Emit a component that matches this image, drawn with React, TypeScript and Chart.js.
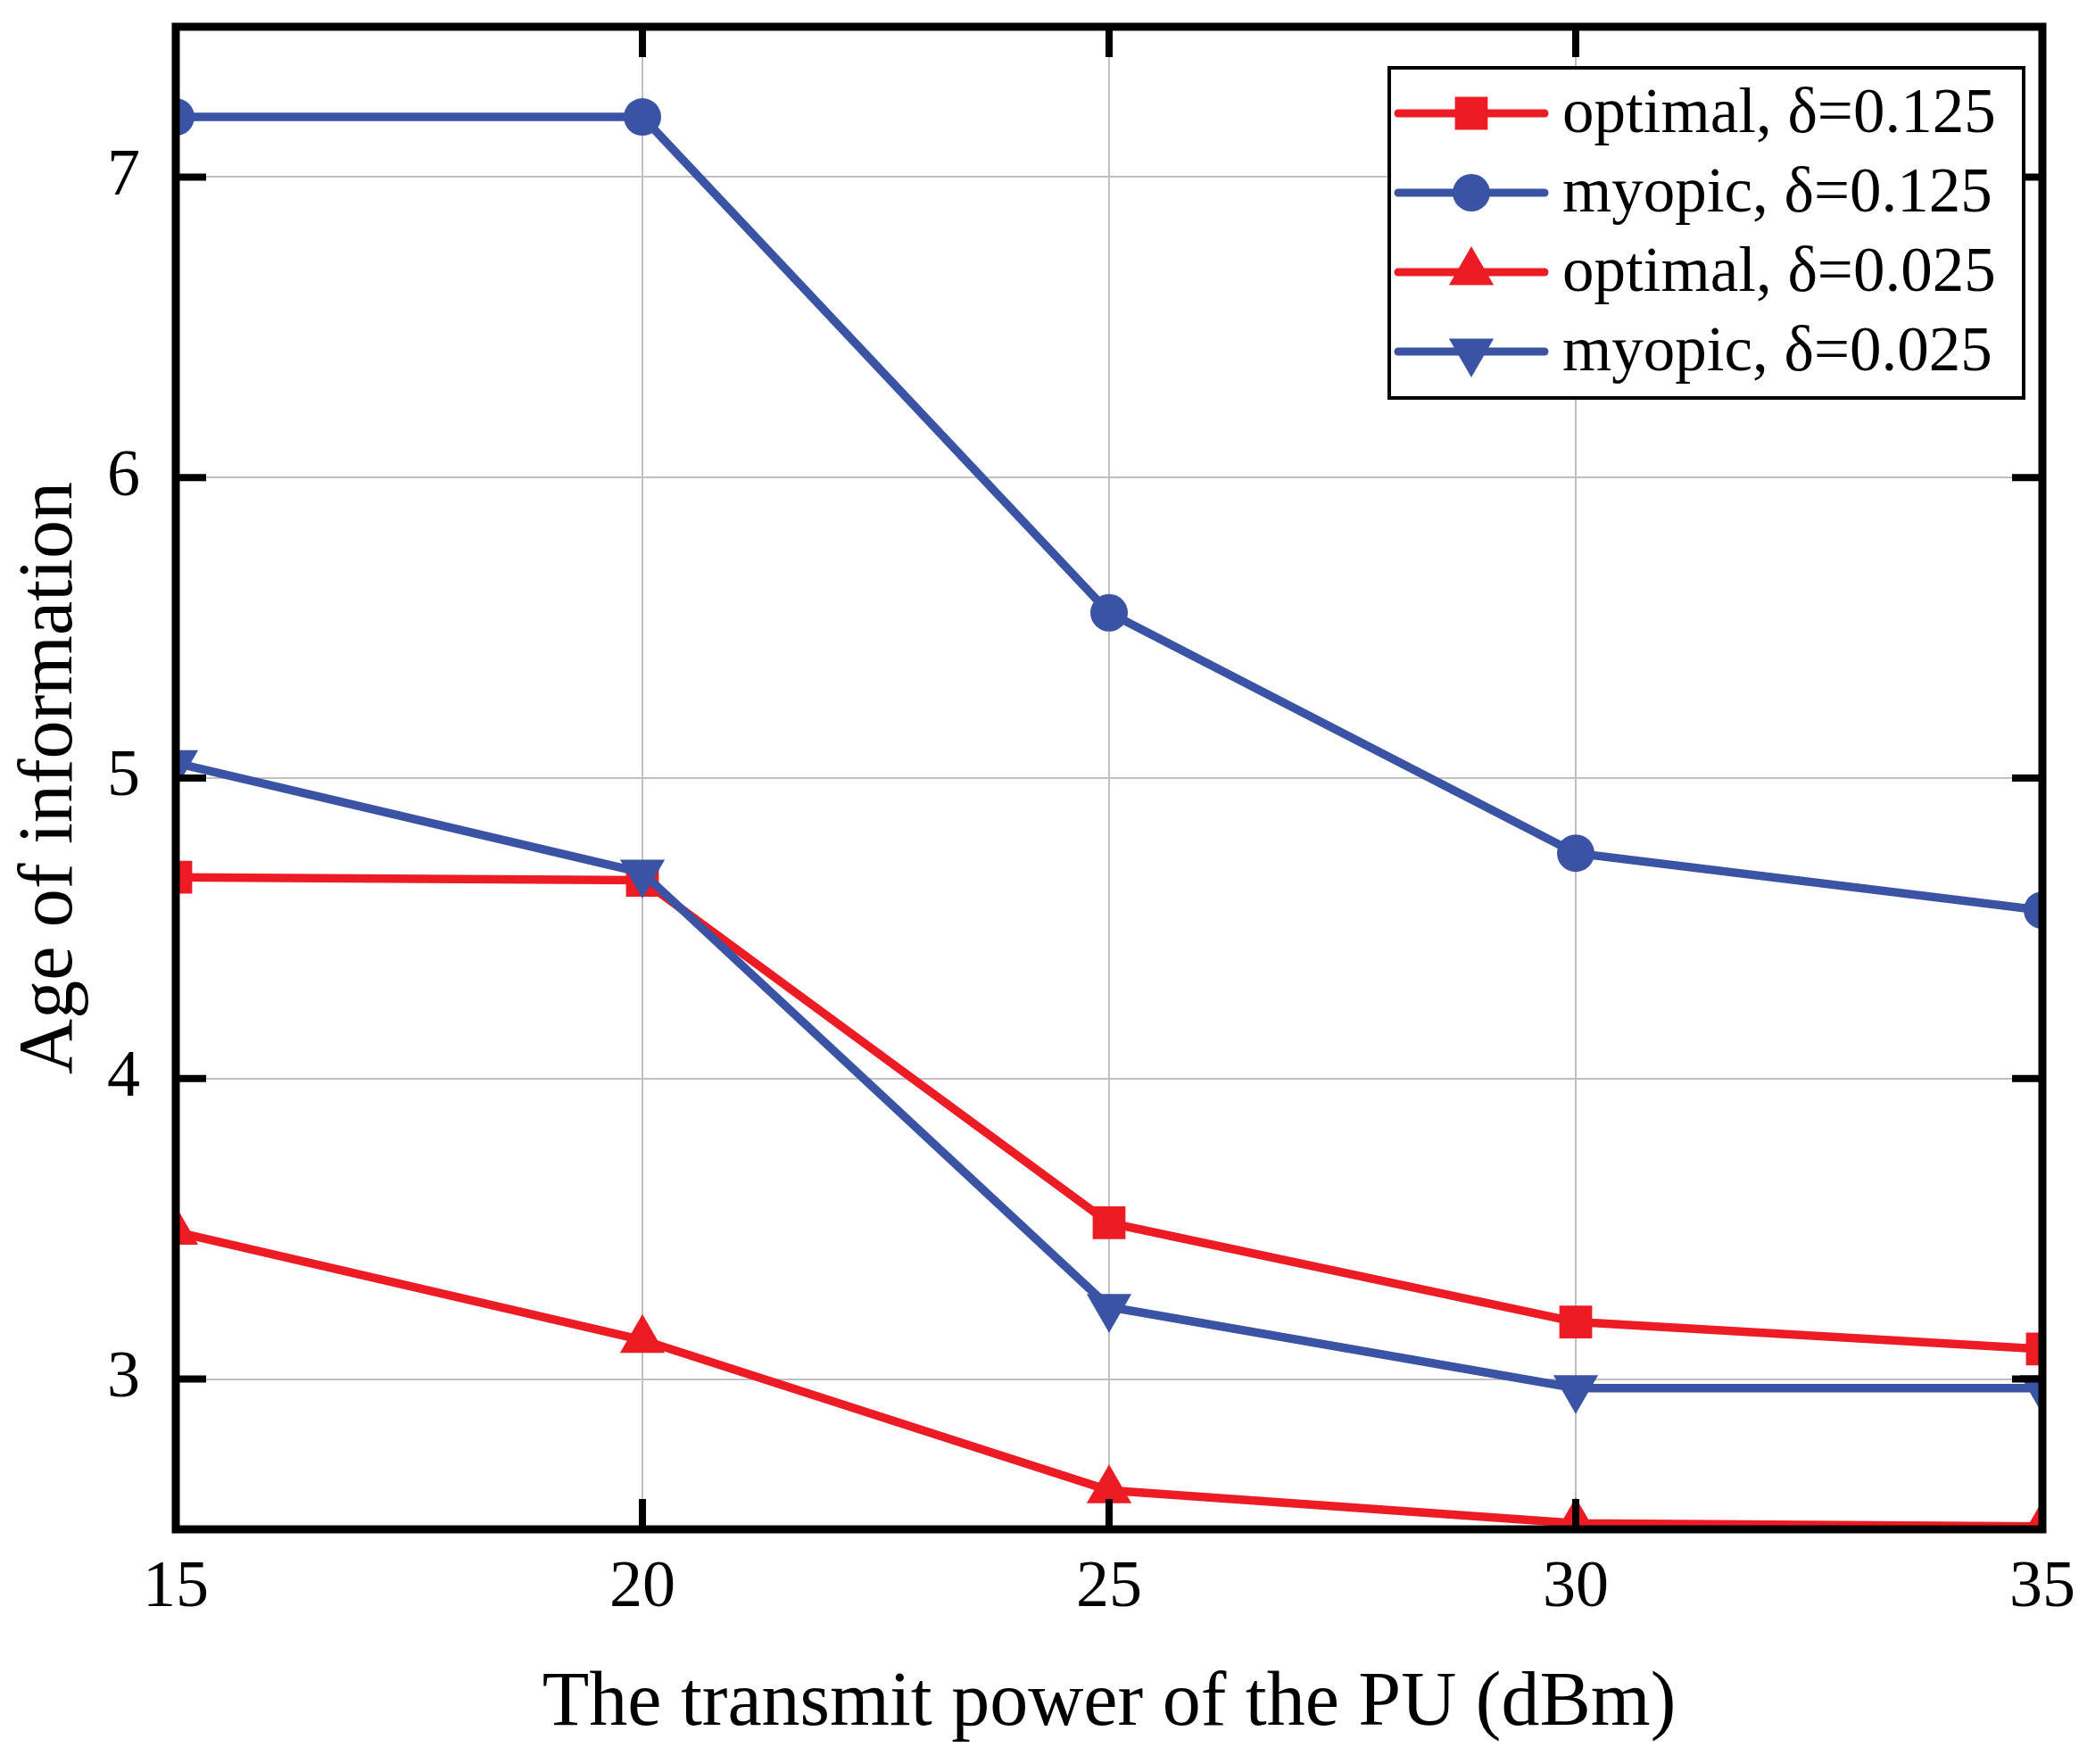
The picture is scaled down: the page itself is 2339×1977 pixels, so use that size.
import React, { useEffect, useRef } from "react";
import { Chart, registerables } from "chart.js";

Chart.register(...registerables);

const X_VALUES = [15, 20, 25, 30, 35];
const X_TICKS = [15, 20, 25, 30, 35];
const Y_TICKS = [3, 4, 5, 6, 7];

const OPTIMAL_0125 = [4.67, 4.66, 3.52, 3.19, 3.1];
const MYOPIC_0125 = [7.2, 7.2, 5.55, 4.75, 4.56];
const OPTIMAL_0025 = [3.49, 3.13, 2.63, 2.52, 2.51];
const MYOPIC_0025 = [5.05, 4.685, 3.24, 2.97, 2.97];

const SERIES_LABELS = [
  "optimal, δ=0.125",
  "myopic, δ=0.125",
  "optimal, δ=0.025",
  "myopic, δ=0.025",
];

const X_TITLE = "The transmit power of the PU (dBm)";
const Y_TITLE = "Age of information";

const RED = "#ED1C24";
const BLUE = "#3A53A4";
const FONT = '"Liberation Serif", "Times New Roman", serif';

type Marker = { style: string; radius: number; rotation: number; color: string };

const MARKERS: Marker[] = [
  { style: "rect", radius: 26, rotation: 0, color: RED },
  { style: "circle", radius: 21, rotation: 0, color: BLUE },
  { style: "triangle", radius: 29, rotation: 0, color: RED },
  { style: "triangle", radius: 29, rotation: 180, color: BLUE },
];

function drawMarker(ctx: CanvasRenderingContext2D, m: Marker, x: number, y: number) {
  ctx.save();
  ctx.fillStyle = m.color;
  ctx.beginPath();
  if (m.style === "rect") {
    const s = Math.SQRT1_2 * m.radius;
    ctx.rect(x - s, y - s, 2 * s, 2 * s);
  } else if (m.style === "circle") {
    ctx.arc(x, y, m.radius, 0, Math.PI * 2);
  } else {
    let rad = (m.rotation * Math.PI) / 180;
    ctx.moveTo(x + Math.sin(rad) * m.radius, y - Math.cos(rad) * m.radius);
    rad += (2 * Math.PI) / 3;
    ctx.lineTo(x + Math.sin(rad) * m.radius, y - Math.cos(rad) * m.radius);
    rad += (2 * Math.PI) / 3;
    ctx.lineTo(x + Math.sin(rad) * m.radius, y - Math.cos(rad) * m.radius);
    ctx.closePath();
  }
  ctx.fill();
  ctx.restore();
}

const TICK_LEN = 34;

const framePlugin = {
  id: "frame",
  afterDatasetsDraw(chart: any) {
    const { ctx, chartArea } = chart;
    const { left, right, top, bottom } = chartArea;
    const xs = chart.scales.x;
    const ys = chart.scales.y;
    ctx.save();
    ctx.strokeStyle = "#000";
    ctx.lineCap = "butt";
    ctx.lineWidth = 8;
    const seg = (a: number, b: number, c: number, d: number) => {
      ctx.beginPath();
      ctx.moveTo(a, b);
      ctx.lineTo(c, d);
      ctx.stroke();
    };
    for (const v of X_TICKS) {
      const px = xs.getPixelForValue(v);
      seg(px, bottom, px, bottom - TICK_LEN);
      seg(px, top, px, top + TICK_LEN);
    }
    for (const v of Y_TICKS) {
      const py = ys.getPixelForValue(v);
      seg(left, py, left + TICK_LEN, py);
      seg(right, py, right - TICK_LEN, py);
    }
    ctx.lineWidth = 9;
    ctx.strokeRect(left, top, right - left, bottom - top);
    ctx.restore();
  },
};

const legendPlugin = {
  id: "customLegend",
  afterDraw(chart: any) {
    const { ctx, chartArea } = chart;
    const boxLeft = chartArea.right - 732;
    const boxTop = chartArea.top + 46;
    const boxW = 711;
    const boxH = 370;
    ctx.save();
    ctx.fillStyle = "#fff";
    ctx.fillRect(boxLeft, boxTop, boxW, boxH);
    ctx.strokeStyle = "#000";
    ctx.lineWidth = 4;
    ctx.strokeRect(boxLeft, boxTop, boxW, boxH);
    ctx.font = `71px ${FONT}`;
    ctx.textBaseline = "middle";
    ctx.textAlign = "left";
    SERIES_LABELS.forEach((label, i) => {
      const cy = boxTop + 51 + i * 89;
      const m = MARKERS[i];
      ctx.strokeStyle = m.color;
      ctx.lineWidth = 9;
      ctx.lineCap = "round";
      ctx.beginPath();
      ctx.moveTo(boxLeft + 10, cy);
      ctx.lineTo(boxLeft + 174, cy);
      ctx.stroke();
      drawMarker(ctx, m, boxLeft + 92, cy);
      ctx.fillStyle = "#000";
      ctx.fillText(label, boxLeft + 194, cy + 2);
    });
    ctx.restore();
  },
};

export default function App() {
  const canvasRef = useRef<HTMLCanvasElement | null>(null);

  useEffect(() => {
    let chart: Chart | null = null;
    let cancelled = false;
    const make = () => {
      if (cancelled || !canvasRef.current) return;
      const series = [OPTIMAL_0125, MYOPIC_0125, OPTIMAL_0025, MYOPIC_0025];
      const datasets = series.map((vals, i) => ({
        label: SERIES_LABELS[i],
        data: X_VALUES.map((x, j) => ({ x, y: vals[j] })),
        borderColor: MARKERS[i].color,
        backgroundColor: MARKERS[i].color,
        borderWidth: 9.5,
        pointStyle: MARKERS[i].style as any,
        pointRadius: MARKERS[i].radius,
        pointRotation: MARKERS[i].rotation,
        pointBorderWidth: 0,
        pointBackgroundColor: MARKERS[i].color,
        pointHoverRadius: MARKERS[i].radius,
        tension: 0,
        clip: 0,
        order: series.length - 1 - i,
      }));
      chart = new Chart(canvasRef.current, {
        type: "line",
        data: { datasets },
        options: {
          animation: false,
          responsive: false,
          devicePixelRatio: 1,
          events: [],
          layout: { padding: { top: 30, right: 50, left: 0, bottom: 0 } },
          plugins: { legend: { display: false }, tooltip: { enabled: false } },
          scales: {
            x: {
              type: "linear",
              min: 15,
              max: 35,
              afterBuildTicks: (scale: any) => {
                scale.ticks = X_TICKS.map((v) => ({ value: v }));
              },
              afterFit: (scale: any) => {
                scale.height = 263;
                scale.paddingLeft = 0;
                scale.paddingRight = 0;
              },
              ticks: {
                color: "#000",
                font: { family: FONT, size: 74 },
                padding: 22,
                maxRotation: 0,
                autoSkip: false,
              },
              grid: { color: "#c0c0c0", lineWidth: 2, drawTicks: false },
              border: { display: false },
              title: {
                display: true,
                text: X_TITLE,
                color: "#000",
                font: { family: FONT, size: 86 },
                padding: { top: 0, bottom: 15 },
              },
            },
            y: {
              type: "linear",
              min: 2.5,
              max: 7.5,
              afterBuildTicks: (scale: any) => {
                scale.ticks = Y_TICKS.map((v) => ({ value: v }));
              },
              afterFit: (scale: any) => {
                scale.width = 197;
                scale.paddingTop = 0;
                scale.paddingBottom = 0;
              },
              ticks: {
                color: "#000",
                font: { family: FONT, size: 74 },
                padding: 40,
                autoSkip: false,
              },
              grid: { color: "#c0c0c0", lineWidth: 2, drawTicks: false },
              border: { display: false },
              title: {
                display: true,
                text: Y_TITLE,
                color: "#000",
                font: { family: FONT, size: 86 },
                padding: { top: 6, bottom: 0 },
              },
            },
          },
        },
        plugins: [framePlugin, legendPlugin],
      });
    };
    const fontsApi = (document as any).fonts;
    if (fontsApi && fontsApi.load) {
      Promise.all([
        fontsApi.load(`74px ${FONT}`),
        fontsApi.load(`86px ${FONT}`),
      ])
        .catch(() => undefined)
        .then(make);
    } else {
      make();
    }
    return () => {
      cancelled = true;
      if (chart) chart.destroy();
    };
  }, []);

  return (
    <div style={{ position: "absolute", left: 0, top: 0, width: 2339, height: 1977, background: "#fff" }}>
      <canvas ref={canvasRef} width={2339} height={1977} style={{ width: 2339, height: 1977, display: "block" }} />
    </div>
  );
}
